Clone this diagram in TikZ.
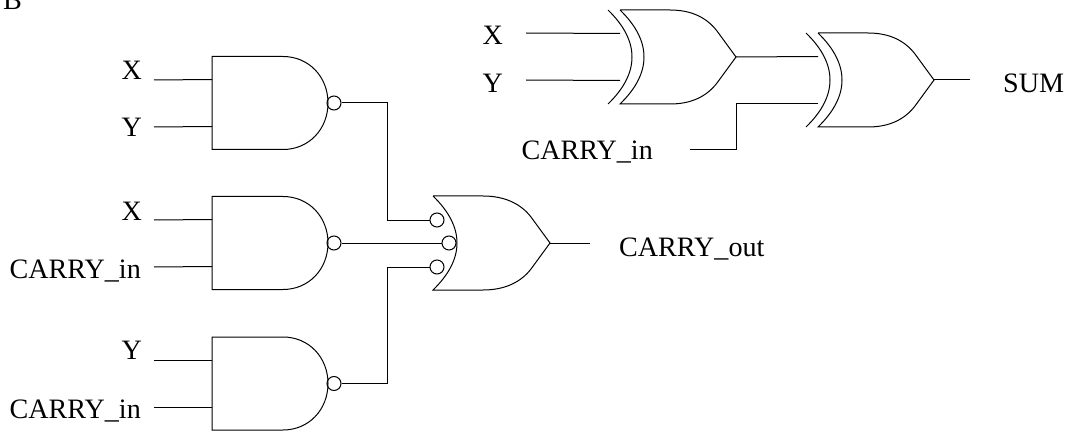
\documentclass[tikz,border=0pt]{standalone}
\usepackage{fontspec}
\setmainfont{Liberation Serif}
\usetikzlibrary{positioning}
\tikzset{
  wire/.style={line width=1pt},
  lbl/.style={anchor=base east,inner ysep=0pt,inner xsep=0pt,font=\fontsize{28.1}{30}\selectfont},
  bubble/.style={circle,draw,line width=1pt,minimum size=14pt,inner sep=0pt},
  nandgate/.pic={
    \draw[wire] (71,-46.5) -- (0,-46.5) -- (0,46.5) -- (71,46.5)
      .. controls (97,46.5) and (116,26) .. (116,0)
      .. controls (116,-26) and (97,-46.5) .. (71,-46.5);
    \coordinate (-a) at (0,-23.5);
    \coordinate (-b) at (0,23.5);
    \node[bubble] (-n) at (122,0) {};
  },
  orgate/.pic={
    \draw[wire] (0,-47) -- (50,-47)
      .. controls (72,-47) and (88,-39) .. (98,-26) -- (117,0) -- (98,26)
      .. controls (88,39) and (72,47) .. (50,47) -- (0,47)
      .. controls (32,16) and (32,-16) .. (0,-47);
    \coordinate (-a) at (0,-23.5);
    \coordinate (-b) at (0,23.5);
    \coordinate (-y) at (117,0);
  },
  xorgate/.pic={
    \draw[wire] (0,-47) -- (50,-47)
      .. controls (72,-47) and (87,-39) .. (97,-26) -- (116,0) -- (97,26)
      .. controls (87,39) and (72,47) .. (50,47) -- (0,47)
      .. controls (32,16) and (32,-16) .. (0,-47);
    \draw[wire] (-12,-47) .. controls (20,-16) and (20,16) .. (-12,47);
    \coordinate (-a) at (0,-23.5);
    \coordinate (-b) at (0,23.5);
    \coordinate (-y) at (116,0);
  }
}
\begin{document}
\begin{tikzpicture}[x=1pt,y=-1pt]
  \useasboundingbox (0,0) rectangle (1069,433);
  \node[lbl] (title) at (22,10) {B};
  % gates
  \pic (nandxy) at (212,103) {nandgate};
  \pic (nandxc) at (212,243) {nandgate};
  \pic (nandyc) at (212,383.5) {nandgate};
  \pic (carry) at (433,243) {orgate};
  \node[bubble] (inxy) at (437,220) {};
  \node[bubble] (inxc) at (449,243) {};
  \node[bubble] (inyc) at (437,267) {};
  \pic (xora) at (620,57) {xorgate};
  \pic (xorb) at (818,80) {xorgate};
  % labels
  \node[lbl] (xa) at (142,80) {X};
  \node[lbl] (ya) at (142,137) {Y};
  \node[lbl] (xb) at (142,220) {X};
  \node[lbl] (cb) at (141,278) {CARRY\_in};
  \node[lbl] (yc) at (142,359) {Y};
  \node[lbl] (cc) at (141,418) {CARRY\_in};
  \node[lbl,anchor=base west] (cout) at (619,256) {CARRY\_out};
  \node[lbl] (xt) at (503,45) {X};
  \node[lbl] (yt) at (503,93) {Y};
  \node[lbl] (ct) at (653,160) {CARRY\_in};
  \node[lbl,anchor=base west] (sum) at (1003,93) {SUM};
  % free ends
  \coordinate (wxa) at (154,80);
  \coordinate (wya) at (154,127);
  \coordinate (wxb) at (154,220);
  \coordinate (wcb) at (154,267);
  \coordinate (wyc) at (154,360);
  \coordinate (wcc) at (154,407);
  \coordinate (wxt) at (526,33);
  \coordinate (wyt) at (526,80);
  \coordinate (wct) at (690,150);
  \coordinate (wout) at (590,243);
  \coordinate (wsum) at (970,80);
  % wires
  \draw[wire] (wxa) -- (nandxy-a);
  \draw[wire] (wya) -- (nandxy-b);
  \draw[wire] (wxb) -- (nandxc-a);
  \draw[wire] (wcb) -- (nandxc-b);
  \draw[wire] (wyc) -- (nandyc-a);
  \draw[wire] (wcc) -- (nandyc-b);
  \draw[wire] (nandxy-n.east) -| (387,220) -- (inxy.west);
  \draw[wire] (nandxc-n.east) -- (inxc.west);
  \draw[wire] (nandyc-n.east) -| (387,267) -- (inyc.west);
  \draw[wire] (carry-y) -- (wout);
  \draw[wire] (wxt) -- (xora-a);
  \draw[wire] (wyt) -- (xora-b);
  \draw[wire] (xora-y) -- (xorb-a);
  \draw[wire] (wct) -| (736,103.5) -- (xorb-b);
  \draw[wire] (xorb-y) -- (wsum);
\end{tikzpicture}
\end{document}
